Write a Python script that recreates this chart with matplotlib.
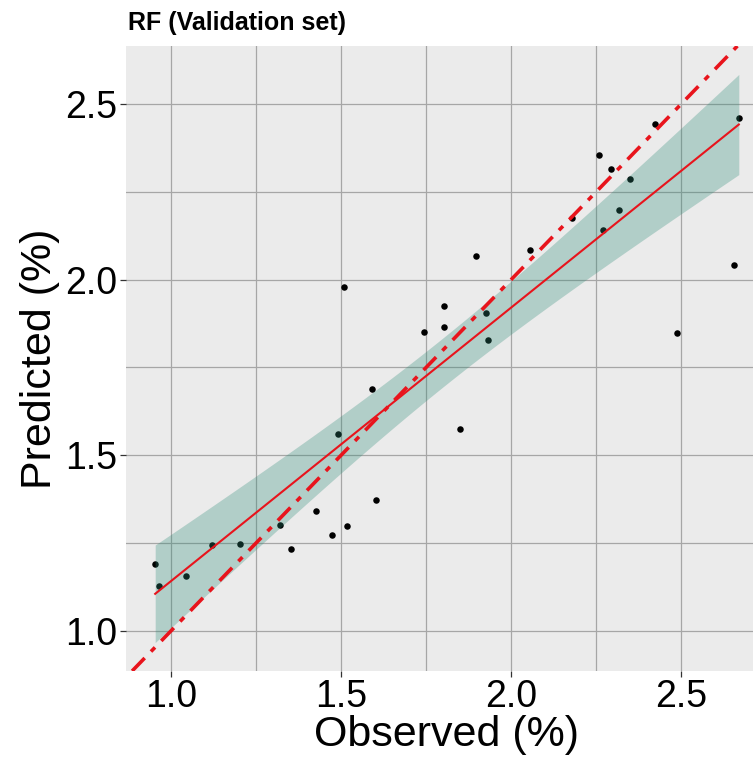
import numpy as np
import matplotlib
matplotlib.use("Agg")
import matplotlib.pyplot as plt

plt.rcParams['font.family'] = ['Liberation Sans', 'DejaVu Sans']

# observed vs predicted (%), validation set
observed = [0.954, 0.964, 1.045, 1.122, 1.202, 1.321, 1.353, 1.427, 1.475, 1.490,
            1.510, 1.517, 1.591, 1.602, 1.745, 1.802, 1.802, 1.851, 1.896, 1.925,
            1.931, 2.056, 2.180, 2.258, 2.271, 2.293, 2.316, 2.348, 2.422, 2.486,
            2.656, 2.669]
predicted = [1.192, 1.127, 1.157, 1.245, 1.248, 1.301, 1.233, 1.342, 1.273, 1.560,
             1.978, 1.298, 1.688, 1.373, 1.850, 1.925, 1.866, 1.576, 2.066, 1.906,
             1.828, 2.085, 2.175, 2.356, 2.141, 2.315, 2.197, 2.285, 2.444, 1.847,
             2.041, 2.459]
title = "RF (Validation set)"
xticks = [1.0, 1.5, 2.0, 2.5]
yticks = [1.0, 1.5, 2.0, 2.5]

x = np.array(observed)
y = np.array(predicted)

# linear fit with 95% confidence band (like geom_smooth(method = "lm"))
n = len(x)
b1, b0 = np.polyfit(x, y, 1)
resid = y - (b0 + b1 * x)
s = np.sqrt(np.sum(resid ** 2) / (n - 2))
sxx = np.sum((x - x.mean()) ** 2)
t = 2.042
xs = np.linspace(x.min(), x.max(), 80)
fit = b0 + b1 * xs
se = s * np.sqrt(1 / n + (xs - x.mean()) ** 2 / sxx)
lo, hi = fit - t * se, fit + t * se

fig = plt.figure(figsize=(7.53, 7.62), dpi=100)
ax = fig.add_axes([126 / 753, 1 - 671 / 762, (768 - 126) / 753, 625 / 762])
ax.set_facecolor('#EBEBEB')

ax.scatter(x, y, s=22, color='black', zorder=3, linewidths=0)
ax.fill_between(xs, lo, hi, color='#2E8B77', alpha=0.3, linewidth=0, zorder=4)
ax.plot(xs, fit, color='#E8141C', lw=1.5, zorder=5)
ax.axline((1, 1), slope=1, color='#E8141C', lw=2.6,
          linestyle=(0, (5, 2.5, 1.6, 2.5)), zorder=6)

# ggplot-style 5% expansion
xr = x.max() - x.min()
ax.set_xlim(x.min() - 0.05 * xr, x.max() + 0.05 * xr)
ymin, ymax = min(y.min(), lo.min()), max(y.max(), hi.max())
yr = ymax - ymin
ax.set_ylim(ymin - 0.05 * yr, ymax + 0.05 * yr)

ax.set_xticks(xticks)
ax.set_yticks(yticks)
ax.set_xticks([1.25, 1.75, 2.25, 2.75], minor=True)
ax.set_yticks([1.25, 1.75, 2.25], minor=True)
ax.grid(True, which='both', color='#A6A6A6', lw=0.9)
ax.set_axisbelow(True)
for sp in ax.spines.values():
    sp.set_visible(False)
ax.tick_params(which='major', length=4, width=0.9, color='#333333',
               labelsize=27, labelcolor='black', pad=2)
ax.tick_params(which='minor', length=0)

ax.set_xlabel("Observed (%)", fontsize=31, labelpad=0)
ax.set_ylabel("Predicted (%)", fontsize=31, labelpad=4)
fig.text(128 / 753, 1 - 30 / 762, title, fontsize=18, fontweight='bold',
         ha='left', va='baseline')

fig.savefig("out.png", dpi=100)
